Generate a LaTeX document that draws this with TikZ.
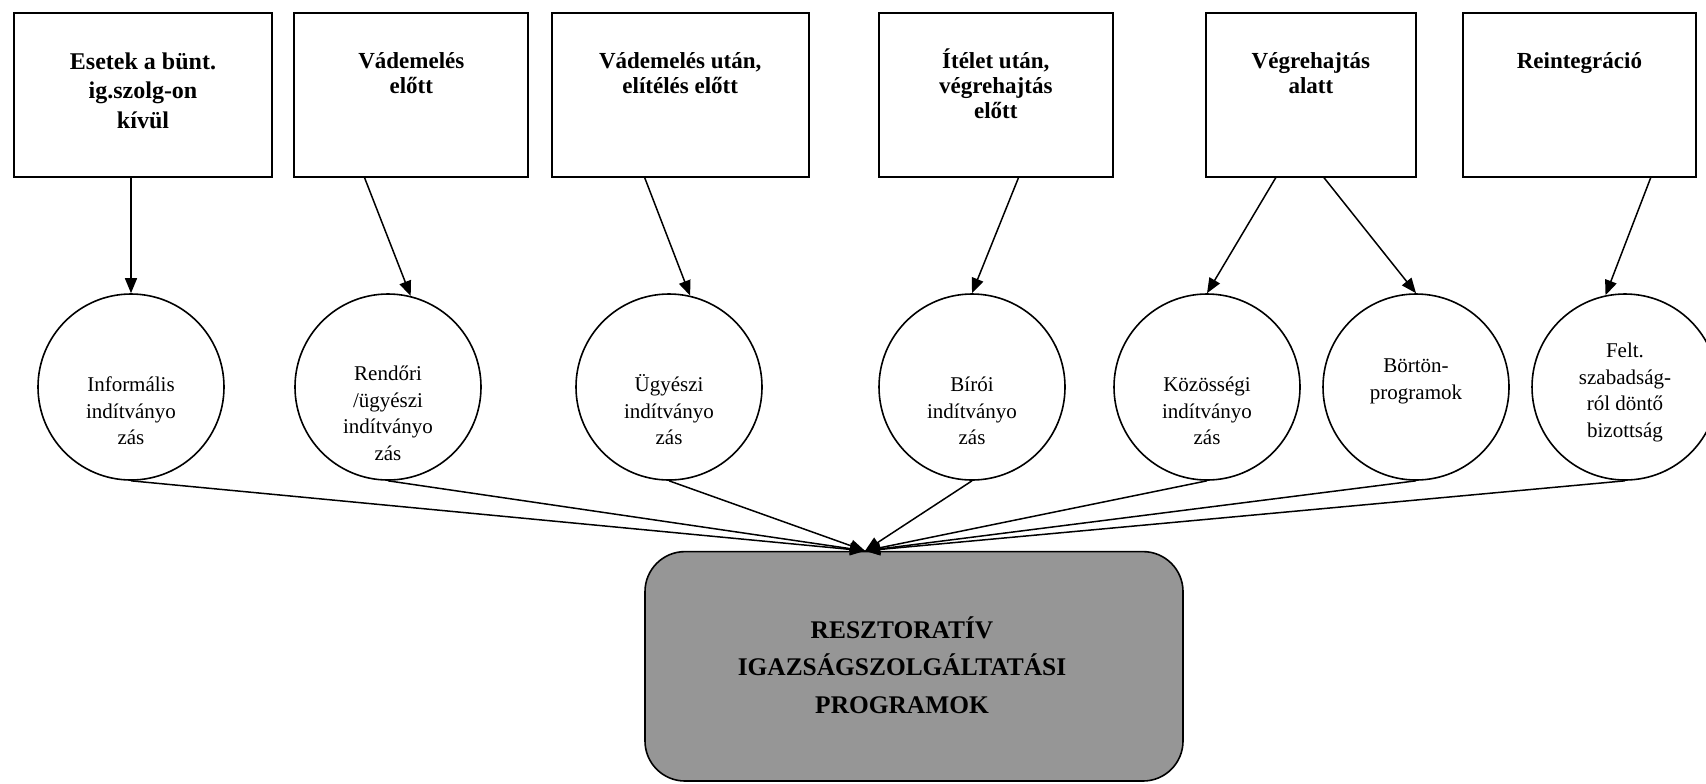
\documentclass[tikz,border=0pt]{standalone}
\usepackage{fontspec}
\setmainfont{Liberation Serif}
\usetikzlibrary{arrows.meta,calc}
\definecolor{resgray}{RGB}{150,150,150}
\newcommand{\lineup}[1]{\rule{0pt}{#1}}
\begin{document}
\begin{tikzpicture}[x=0.5pt,y=-0.5pt,
  box/.style={draw, line width=1pt, inner sep=0pt, minimum height=81.75pt},
  circ/.style={draw, line width=0.8pt, circle, minimum size=93pt, inner sep=0pt},
  ttl/.style={font=\bfseries\fontsize{11.5}{12.6}\selectfont, align=center, anchor=north, inner sep=0pt},
  ctext/.style={font=\fontsize{10.5}{13.3}\selectfont, align=center, anchor=north, inner sep=0pt},
  arr/.style={line width=0.75pt, -{Triangle[length=7.5pt,width=6pt]}},
  resbox/.style={draw, line width=0.8pt, fill=resgray, rounded corners=20pt, minimum width=269pt, minimum height=114.7pt, inner sep=0pt},
  restext/.style={font=\bfseries\fontsize{12.7}{18.8}\selectfont, align=center, inner sep=0pt}
]
\useasboundingbox (0,0) rectangle (1706,783);

% top boxes
\node[box, minimum width=129pt]   (b1) at (143,95) {};
\node[box, minimum width=117pt]   (b2) at (411.3,95) {};
\node[box, minimum width=128.5pt] (b3) at (680.2,95) {};
\node[box, minimum width=117pt]   (b4) at (995.8,95) {};
\node[box, minimum width=105pt]   (b5) at (1310.9,95) {};
\node[box, minimum width=116.6pt] (b6) at (1579.4,95) {};

\node[ttl, font=\bfseries\fontsize{12}{14.7}\selectfont] (t1) at (143,49) {\lineup{10pt}Esetek a bünt.\\ig.szolg-on\\kívül};
\node[ttl] (t2) at (411.3,48) {\lineup{10pt}Vádemelés\\előtt};
\node[ttl] (t3) at (680.2,48) {\lineup{10pt}Vádemelés után,\\elítélés előtt};
\node[ttl] (t4) at (995.8,48) {\lineup{10pt}Ítélet után,\\végrehajtás\\előtt};
\node[ttl] (t5) at (1310.9,48) {\lineup{10pt}Végrehajtás\\alatt};
\node[ttl] (t6) at (1579.4,48) {\lineup{10pt}Reintegráció};

% circles
\node[circ] (c1) at (131,387) {};
\node[circ] (c2) at (388,387) {};
\node[circ] (c3) at (669,387) {};
\node[circ] (c4) at (972,387) {};
\node[circ] (c5) at (1207,387) {};
\node[circ] (c6) at (1416,387) {};
\node[circ] (c7) at (1625,387) {};

\node[ctext] (ct1) at (131,373) {\lineup{9pt}Informális\\indítványo\\zás};
\node[ctext] (ct2) at (388,362) {\lineup{9pt}Rendőri\\/ügyészi\\indítványo\\zás};
\node[ctext] (ct3) at (669,373) {\lineup{9pt}Ügyészi\\indítványo\\zás};
\node[ctext] (ct4) at (972,373) {\lineup{9pt}Bírói\\indítványo\\zás};
\node[ctext] (ct5) at (1207,373) {\lineup{9pt}Közösségi\\indítványo\\zás};
\node[ctext] (ct6) at (1416,354) {\lineup{9pt}Börtön-\\programok};
\node[ctext] (ct7) at (1625,339) {\lineup{9pt}Felt.\\szabadság-\\ról döntő\\bizottság};

% result box
\node[resbox] (res) at (914,666.3) {};
\node[restext] (rt) at (902,665) {RESZTORATÍV\\IGAZSÁGSZOLGÁLTATÁSI\\PROGRAMOK};
\coordinate (conv) at ($(res.north)+(-49,0)$);

% box -> circle arrows
\draw[arr] (c1.north |- b1.south) -- (c1.north);
\draw[arr] ($(b2.south west)!0.302!(b2.south east)$) -- (c2.76);
\draw[arr] ($(b3.south west)!0.363!(b3.south east)$) -- (c3.77);
\draw[arr] ($(b4.south west)!0.596!(b4.south east)$) -- (c4.north);
\draw[arr] ($(b5.south west)!0.334!(b5.south east)$) -- (c5.north);
\draw[arr] ($(b5.south west)!0.562!(b5.south east)$) -- (c6.north);
\draw[arr] ($(b6.south west)!0.803!(b6.south east)$) -- (c7.102);

% circle -> result arrows
\foreach \c in {c1,c2,c3,c4,c5,c6,c7}
  \draw[arr] (\c.south) -- (conv);
\end{tikzpicture}
\end{document}
